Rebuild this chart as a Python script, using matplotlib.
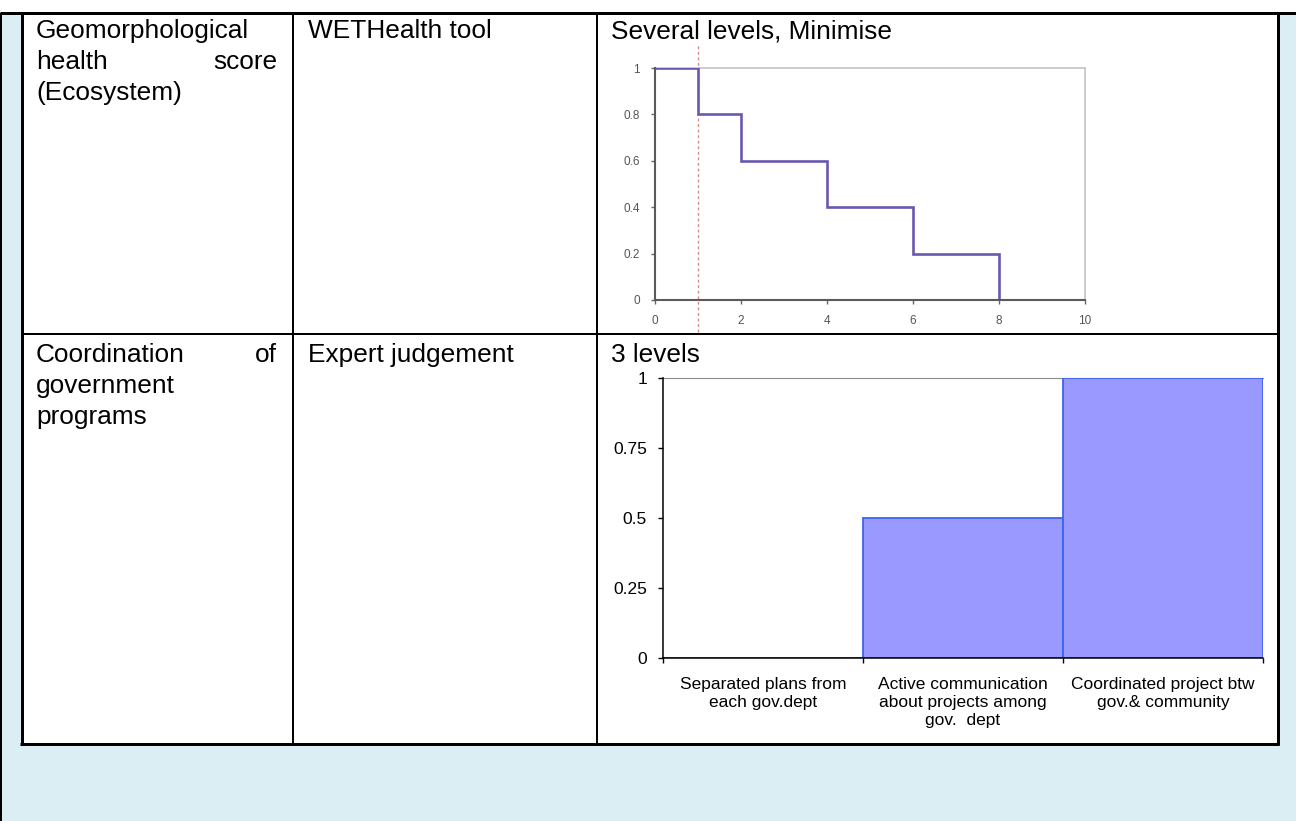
import matplotlib
matplotlib.use("Agg")
import matplotlib.pyplot as plt
from matplotlib.lines import Line2D
from matplotlib.patches import Rectangle

# --- data -------------------------------------------------------------
# each cell line: one word = left aligned, two words = justified
row_names = [[["Geomorphological"], ["health", "score"], ["(Ecosystem)"]],
             [["Coordination", "of"], ["government"], ["programs"]]]
row_methods = ["WETHealth tool", "Expert judgement"]
row_titles = ["Several levels, Minimise", "3 levels"]

health_edges = [0, 1, 2, 4, 6, 8, 10]
health_levels = [1, 0.8, 0.6, 0.4, 0.2, 0]
health_threshold = 1
health_xticks = [0, 2, 4, 6, 8, 10]
health_yticks = [0, 0.2, 0.4, 0.6, 0.8, 1]
health_ylabels = ["0", "0.2", "0.4", "0.6", "0.8", "1"]

coord_labels = ["Separated plans from\neach gov.dept",
                "Active communication\nabout projects among\ngov.  dept",
                "Coordinated project btw\ngov.& community"]
coord_values = [0, 0.5, 1]
coord_yticks = [0, 0.25, 0.5, 0.75, 1]
coord_ylabels = ["0", "0.25", "0.5", "0.75", "1"]

# --- figure in pixel coordinates ---------------------------------------
W, H = 1296, 821
plt.rcParams["font.family"] = ["Liberation Sans", "DejaVu Sans"]
fig = plt.figure(figsize=(W / 100, H / 100), dpi=100)
fig.patch.set_facecolor("white")

def fx(x):
    return x / W

def fy(y):
    return 1 - y / H

def box(x0, y0, x1, y1, color):
    fig.add_artist(Rectangle((fx(x0), fy(y1)), (x1 - x0) / W, (y1 - y0) / H,
                             transform=fig.transFigure, facecolor=color,
                             edgecolor="none", zorder=0))

def line(x0, y0, x1, y1, lw):
    fig.add_artist(Line2D([fx(x0), fx(x1)], [fy(y0), fy(y1)], transform=fig.transFigure,
                          color="black", lw=lw * 0.72, solid_capstyle="butt", zorder=5))

def txt(x, y, s, ha="left", size=18.9):
    fig.text(fx(x), fy(y), s, ha=ha, va="baseline", fontsize=size, color="black")

BLUE_BG = "#DAEEF3"
box(2, 15, W, H, BLUE_BG)
box(22, 15, 1277, 743, "white")

line(0, 13.5, W, 13.5, 3)
line(1, 13, 1, H, 2)
line(21.5, 13, 21.5, 744.5, 3)
line(1277.5, 13, 1277.5, 744.5, 3)
line(20, 743.5, 1279, 743.5, 3)
line(21, 334, 1277, 334, 2)
line(293, 13, 293, 743, 2)
line(597, 13, 597, 743, 2)

# --- table text -------------------------------------------------------
for base, cell in zip([38, 362], row_names):
    for i, words in enumerate(cell):
        y = base + 31 * i
        txt(36, y, words[0])
        if len(words) > 1:
            txt(277, y, words[1], ha="right")
for base, meth, title in zip([38, 362], row_methods, row_titles):
    txt(308, base, meth)
    txt(611, base, title)

# --- chart 1: step function -------------------------------------------
ax1 = fig.add_axes([fx(655), fy(300), (1085 - 655) / W, (300 - 68) / H])
ax1.stairs(health_levels, health_edges, baseline=None, color="#6A58B0", lw=1.9, zorder=3)
ax1.axvline(health_threshold, ymin=-0.14, ymax=1.1, color="#D88888", lw=1,
            ls=(0, (2, 2)), clip_on=False, zorder=2)
ax1.set_xlim(0, 10)
ax1.set_ylim(0, 1)
ax1.set_xticks(health_xticks)
ax1.set_xticklabels([str(v) for v in health_xticks])
ax1.set_yticks(health_yticks)
ax1.set_yticklabels(health_ylabels)
ax1.tick_params(direction="out", length=3, width=1, color="#666666",
                labelsize=8.5, labelcolor="#555555", pad=8)
for side in ["left", "bottom"]:
    ax1.spines[side].set_color("#5A5A5A")
    ax1.spines[side].set_linewidth(1.5)
    ax1.spines[side].set_zorder(4)
for side in ["top", "right"]:
    ax1.spines[side].set_color("#C4C4C4")
    ax1.spines[side].set_linewidth(1.2)
ax1.patch.set_alpha(0)

# --- chart 2: bars ------------------------------------------------------
ax2 = fig.add_axes([fx(663), fy(658), (1263 - 663) / W, (658 - 378) / H])
pos = list(range(len(coord_values)))
ax2.bar(pos, coord_values, width=1, color="#9999FF", edgecolor="#3E63F0", lw=1.3, zorder=2)
ax2.set_xlim(-0.5, len(coord_values) - 0.5)
ax2.set_ylim(0, 1)
ax2.set_yticks(coord_yticks)
ax2.set_yticklabels(coord_ylabels)
ax2.set_xticks([p - 0.5 for p in pos] + [len(pos) - 0.5])
ax2.set_xticklabels([])
ax2.set_xticks(pos, minor=True)
ax2.set_xticklabels(coord_labels, minor=True, fontsize=12.5, linespacing=1.25)
ax2.tick_params(axis="x", which="minor", length=0, pad=14)
ax2.tick_params(axis="both", which="major", direction="out", length=3.6, width=1,
                labelsize=12.5, pad=8)
ax2.spines["right"].set_visible(False)
ax2.spines["top"].set_color("#8C8C8C")
ax2.spines["top"].set_zorder(1)
for side in ["left", "bottom"]:
    ax2.spines[side].set_color("black")
    ax2.spines[side].set_linewidth(1.1)
ax2.patch.set_alpha(0)

fig.savefig("out.png", dpi=100)
